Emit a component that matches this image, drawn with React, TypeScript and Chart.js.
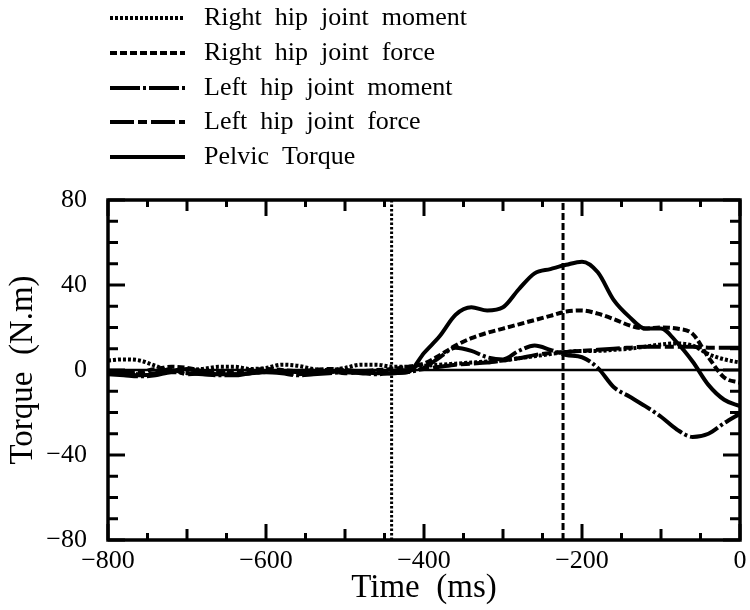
import React, { useEffect, useRef } from 'react';
import { Chart, registerables } from 'chart.js';

Chart.register(...registerables);

// ---- data ----
const times = [
  -800, -780, -760, -740, -720, -700, -680, -660, -640, -620,
  -600, -580, -560, -540, -520, -500, -480, -460, -440, -420,
  -400, -380, -360, -340, -320, -300, -280, -260, -240, -220,
  -200, -180, -160, -140, -120, -100, -80, -60, -40, -20, 0,
];

const rightHipMoment = [
  4.5, 5, 4.5, 2, -0.5, 0, 0.5, 1.5, 1.5, 0.5,
  1, 2.5, 2, 0.5, 0, 1, 2.5, 2.5, 1.5, 1.5,
  2, 2.5, 3, 3.5, 4, 4.5, 5.5, 6.5, 7.5, 8.5,
  9, 9, 9.5, 10, 11, 12, 12.5, 11.5, 7.5, 5, 3.5,
];

const rightHipForce = [
  -1, -1.5, -1, 0.5, 1.5, 1, -0.5, -1.5, -1, 0,
  0.5, 0, -0.5, 0, 0.5, 0, -0.5, 0, 0.5, 1.5,
  3, 7, 11.5, 15, 17.5, 19.5, 21.5, 23.5, 25.5, 27.5,
  28, 26.5, 24, 21, 19.5, 20, 19.5, 17, 6, -3.5, -6,
];

const leftHipMoment = [
  -2, -2.5, -3, -2.5, -1, -1.5, -2, -2.5, -2.5, -1.5,
  -1, -1.5, -2.5, -2, -1.5, -1, -1.5, -2, -1.5, -1,
  1, 6, 10.5, 9, 6, 5, 9, 11.5, 9.5, 7,
  6, 1, -8, -12.5, -17, -22, -28, -31.5, -30, -25, -20.5,
];

const leftHipForce = [
  -1.5, -1, -2, -1.5, 0.5, -2, -1.5, -1, -2, -1.5,
  -0.5, -1, -2, -1, -0.5, -1.5, -1, -0.5, -0.5, 0,
  0.5, 1.5, 2.5, 3, 3.5, 4.5, 5.5, 7, 8, 8.5,
  9, 9.5, 10, 10.5, 11, 11, 11, 11, 10.5, 10.5, 10.5,
];

const pelvicTorque = [
  -1, -2, -2.5, -2, -0.5, 0.5, -1, -2, -2, -1.5,
  -1, -0.5, -1, -1.5, -1, -0.5, -1, -1.5, -1.5, -1,
  8, 16, 26, 29.5, 28, 29.5, 38, 45.5, 47.5, 49.5,
  51, 46, 33, 25, 19.5, 19.5, 13, 4, -7, -14, -17,
];

const eventTimes = [-441, -224];
const zeroLine = [0, 0];
const xRange = [-800, 0];
const yRange = [-80, 80];
const xMajorStep = 200;
const yMajorStep = 40;

const seriesLabels = [
  'Right  hip  joint  moment',
  'Right  hip  joint  force',
  'Left  hip  joint  moment',
  'Left  hip  joint  force',
  'Pelvic  Torque',
];

const FONT = '"Liberation Serif", "Times New Roman", "DejaVu Serif", serif';

const dashes = [
  [3, 2],
  [7, 3],
  [30, 3, 3, 3],
  [24, 4, 9, 4],
  [],
];

const toPts = (vals: number[]) => vals.map((v, i) => ({ x: times[i], y: v }));

const framePlugin = {
  id: 'frameTicks',
  afterDatasetsDraw(chart: any) {
    const { ctx, chartArea, scales } = chart;
    const { left, right, top, bottom } = chartArea;
    const x = scales.x;
    const y = scales.y;
    ctx.save();
    ctx.strokeStyle = '#000';
    ctx.lineCap = 'butt';
    ctx.setLineDash([]);
    ctx.lineWidth = 3;
    const seg = (x1: number, y1: number, x2: number, y2: number) => {
      ctx.beginPath();
      ctx.moveTo(x1, y1);
      ctx.lineTo(x2, y2);
      ctx.stroke();
    };
    for (let t = xRange[0]; t <= xRange[1]; t += 50) {
      const px = x.getPixelForValue(t);
      const len = t % 200 === 0 ? 16 : t % 100 === 0 ? 11 : 7;
      seg(px, bottom, px, bottom - len);
      seg(px, top, px, top + len);
    }
    for (let v = yRange[0]; v <= yRange[1]; v += 10) {
      const py = y.getPixelForValue(v);
      const len = v % 40 === 0 ? 17 : 10;
      seg(left, py, left + len, py);
      seg(right, py, right - len, py);
    }
    ctx.lineWidth = 3.5;
    ctx.strokeRect(left, top, right - left, bottom - top);

    // legend
    const rows = [18, 53, 88, 122, 157];
    for (let i = 0; i < seriesLabels.length; i++) {
      const ry = rows[i];
      ctx.lineWidth = 4;
      ctx.setLineDash(dashes[i]);
      seg(110, ry, 185, ry);
      ctx.setLineDash([]);
      ctx.fillStyle = '#000';
      ctx.font = `26px ${FONT}`;
      ctx.textBaseline = 'middle';
      ctx.textAlign = 'left';
      ctx.fillText(seriesLabels[i], 204, ry);
    }
    ctx.restore();
  },
};

const fmt = (v: number) => (v < 0 ? '\u2212' + Math.abs(v) : String(v));

export default function App() {
  const ref = useRef<HTMLCanvasElement | null>(null);
  useEffect(() => {
    if (!ref.current) return;
    const series = [rightHipMoment, rightHipForce, leftHipMoment, leftHipForce, pelvicTorque];
    const datasets: any[] = series.map((vals, i) => ({
      label: seriesLabels[i],
      data: toPts(vals),
      borderColor: '#000',
      borderWidth: 4,
      borderDash: dashes[i],
      pointRadius: 0,
      fill: false,
      cubicInterpolationMode: 'monotone',
    }));
    datasets.push({
      label: 'zero',
      data: [{ x: xRange[0], y: zeroLine[0] }, { x: xRange[1], y: zeroLine[1] }],
      borderColor: '#000',
      borderWidth: 2.5,
      pointRadius: 0,
      fill: false,
    });
    eventTimes.forEach((t, i) => {
      datasets.push({
        label: 'event' + i,
        data: [{ x: t, y: yRange[0] }, { x: t, y: yRange[1] }],
        borderColor: '#000',
        borderWidth: 3,
        borderDash: i === 0 ? [2.5, 2] : [7, 3],
        pointRadius: 0,
        fill: false,
      });
    });
    const chart = new Chart(ref.current, {
      type: 'line',
      data: { datasets },
      plugins: [framePlugin],
      options: {
        animation: false,
        responsive: true,
        maintainAspectRatio: false,
        layout: { padding: { top: 200, right: 10, left: 0, bottom: 0 } },
        plugins: { legend: { display: false }, tooltip: { enabled: false } },
        scales: {
          x: {
            type: 'linear',
            min: xRange[0],
            max: xRange[1],
            grid: { display: false },
            border: { display: false },
            ticks: {
              stepSize: xMajorStep,
              color: '#000',
              font: { family: FONT, size: 26, lineHeight: 1 },
              padding: 0,
              maxRotation: 0,
              autoSkip: false,
              callback: (v: any) => fmt(Number(v)),
            },
            title: {
              display: true,
              text: 'Time  (ms)',
              color: '#000',
              font: { family: FONT, size: 33, lineHeight: 1 },
              padding: { top: 0, bottom: 5 },
            },
            afterFit: (s: any) => {
              s.height = 70;
            },
          },
          y: {
            type: 'linear',
            min: yRange[0],
            max: yRange[1],
            grid: { display: false },
            border: { display: false },
            ticks: {
              stepSize: yMajorStep,
              color: '#000',
              font: { family: FONT, size: 26, lineHeight: 1 },
              padding: 13,
              callback: (v: any) => fmt(Number(v)),
            },
            title: {
              display: true,
              text: 'Torque  (N.m)',
              color: '#000',
              font: { family: FONT, size: 33, lineHeight: 1 },
              padding: { top: 7, bottom: 0 },
            },
            afterFit: (s: any) => {
              s.width = 108;
            },
          },
        },
      },
    });
    return () => chart.destroy();
  }, []);
  return (
    <div style={{ position: 'fixed', left: 0, top: 0, width: 750, height: 610, background: '#fff' }}>
      <canvas ref={ref} />
    </div>
  );
}
